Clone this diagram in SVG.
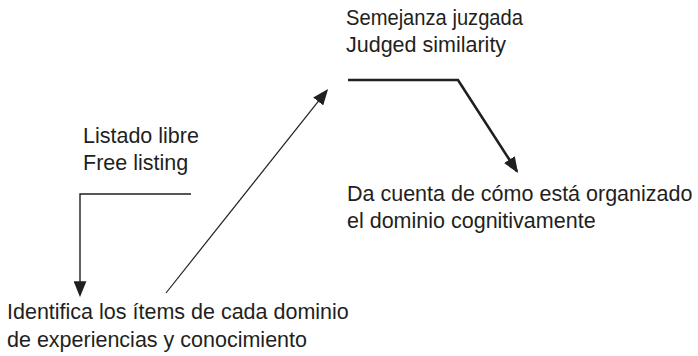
<svg xmlns="http://www.w3.org/2000/svg" width="698" height="356" viewBox="0 0 698 356">
<style>
text{font-family:"Liberation Sans","DejaVu Sans",sans-serif;font-size:21.5px;fill:#231f20}
.c{fill:none;stroke:#231f20;stroke-linejoin:miter}
</style>
<defs>
<marker id="ah" markerUnits="userSpaceOnUse" markerWidth="16" markerHeight="13" viewBox="0 0 15 12" refX="13" refY="6" orient="auto">
<path d="M0,0 L15,6 L0,12 Z" fill="#231f20"/>
</marker>
</defs>
<rect width="698" height="356" fill="#fff"/>
<g id="n-semejanza"><text x="346" y="25" textLength="177" lengthAdjust="spacingAndGlyphs">Semejanza juzgada</text><text x="346" y="52">Judged similarity</text></g>
<g id="n-listado"><text x="83" y="143">Listado libre</text><text x="83" y="170">Free listing</text></g>
<g id="n-dacuenta"><text x="347" y="201">Da cuenta de cómo está organizado</text><text x="347" y="228">el dominio cognitivamente</text></g>
<g id="n-identifica"><text x="7" y="319">Identifica los ítems de cada dominio</text><text x="7" y="347">de experiencias y conocimiento</text></g>
<g id="connectors">
<polyline class="c" stroke-width="1.4" points="191,194 80,194 80,295" marker-end="url(#ah)"/>
<line class="c" stroke-width="1.2" x1="166" y1="293" x2="326.8" y2="90.6" marker-end="url(#ah)"/>
<polyline class="c" stroke-width="2.6" points="348,80 458,80 516.9,171.3" marker-end="url(#ah)"/>
</g>
</svg>
